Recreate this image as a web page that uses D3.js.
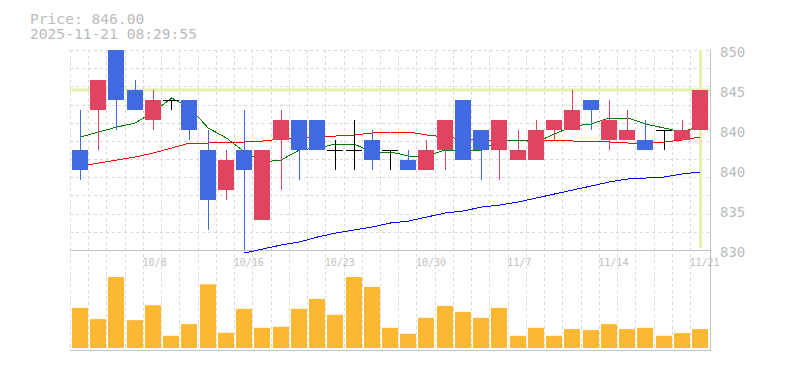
<!DOCTYPE html>
<html>
<head>
<meta charset="utf-8">
<script src="https://cdn.jsdelivr.net/npm/d3@7"></script>
<style>
  body { margin: 0; background: #fff; }
  svg { display: block; font-family: "DejaVu Sans Mono", monospace; }
</style>
</head>
<body>
<div id="chart"></div>
<script>
// trading days shown
const dates = ["10/2","10/3","10/6","10/7","10/8","10/9","10/10","10/14","10/15","10/16",
  "10/17","10/20","10/21","10/22","10/23","10/24","10/27","10/28","10/29","10/30",
  "10/31","11/4","11/5","11/6","11/7","11/10","11/11","11/12","11/13","11/14",
  "11/17","11/18","11/19","11/20","11/21"];

const opens  = [840,844,850,846,843,845,845,840,836,840,833,841,843,843,840,840,841,840,839,838,840,845,842,840,839,839,842,842,845,841,841,841,842,841,842];
const highs  = [844,847,850,847,846,845,845,842,840,844,840,844,843,843,841,843,842,840,840,841,843,845,842,843,842,843,843,846,845,845,844,843,842,843,846];
const lows   = [837,840,842,844,842,844,841,832,835,830,833,836,837,840,838,838,838,838,838,838,838,839,837,837,839,839,841,842,842,840,841,840,840,841,842];
const closes = [838,847,845,844,845,845,842,835,839,838,840,843,840,840,840,840,839,840,838,840,843,839,840,843,840,842,843,844,844,843,842,840,842,842,846];

// moving averages
const ma5  = [841.3,841.8,842.3,842.7,843.8,845.2,844.2,842.2,841.2,839.8,838.8,839.0,840.0,840.2,840.6,840.6,839.8,839.8,839.4,839.4,
  840.0,840.0,840.0,841.0,841.0,840.8,841.6,842.4,842.6,843.2,843.2,842.6,842.2,841.8,842.4];
const ma25 = [838.4,838.7,839.0,839.3,839.7,840.2,840.7,840.7,840.8,840.8,840.9,841.1,841.2,841.3,841.4,841.5,841.7,841.8,841.8,841.5,
  841.3,841.1,840.9,841.0,841.0,841.0,841.0,840.9,840.9,840.8,840.7,840.7,840.8,841.0,841.3];
const ma75 = [null,null,null,null,null,null,null,null,null,829.7,830.1,830.5,830.8,831.3,831.7,832.0,832.3,832.7,832.9,833.3,
  833.7,833.9,834.3,834.5,834.8,835.2,835.6,836.0,836.4,836.8,837.1,837.2,837.3,837.6,837.8];

const volumes = [403,290,713,280,430,123,240,640,153,393,203,213,393,493,333,713,613,203,143,303,
  423,363,303,403,123,203,123,190,180,240,190,203,123,150,190];

const xTickDates = ["10/8","10/16","10/23","10/30","11/7","11/14","11/21"];
const yTickValues = [850, 846, 842, 838, 834, 830];
const yTickLabels = ["850","845","840","840","835","830"];

const lastPrice = 846.00;
const stamp = "2025-11-21 08:29:55";

const W = 785, H = 370;
const mL = 70, mR = 710, mT = 50, priceBottom = 250, volBottom = 350;

const svg = d3.select("#chart").append("svg")
  .attr("width", W).attr("height", H);

const x = d3.scalePoint().domain(dates).range([80, 700]);
const y = d3.scaleLinear().domain([830, 850]).range([priceBottom, mT]);
const yv = d3.scaleLinear().domain([0, d3.max(volumes)]).range([348, 277]);

const px = d => Math.round(x(d)) + 0.5;

// grid
const grid = svg.append("g").attr("stroke", "#d9d9d9").attr("stroke-dasharray", "3,3")
  .attr("shape-rendering", "crispEdges");
grid.selectAll(".v").data(dates).join("line")
  .attr("x1", d => Math.round(x(d) - 10) + 0.5).attr("x2", d => Math.round(x(d) - 10) + 0.5)
  .attr("y1", mT).attr("y2", volBottom);
grid.selectAll(".h").data(d3.range(11)).join("line")
  .attr("x1", mL).attr("x2", mR)
  .attr("y1", i => Math.round(mT + i * (priceBottom - mT) / 11) + 0.5)
  .attr("y2", i => Math.round(mT + i * (priceBottom - mT) / 11) + 0.5);

// current price markers
svg.append("line")
  .attr("x1", mL).attr("x2", mR)
  .attr("y1", y(lastPrice)).attr("y2", y(lastPrice))
  .attr("stroke", "#e1f2a9").attr("stroke-width", 3);
svg.append("line")
  .attr("x1", px(dates[dates.length - 1])).attr("x2", px(dates[dates.length - 1]))
  .attr("y1", mT).attr("y2", 248)
  .attr("stroke", "#e1f2a9").attr("stroke-width", 3);

// frame
const frame = svg.append("g").attr("stroke", "#c0c0c0").attr("shape-rendering", "crispEdges");
frame.append("line").attr("x1", mL).attr("x2", mR).attr("y1", priceBottom + 0.5).attr("y2", priceBottom + 0.5);
frame.append("line").attr("x1", mL).attr("x2", mR + 1).attr("y1", volBottom + 0.5).attr("y2", volBottom + 0.5);
frame.append("line").attr("x1", mR + 0.5).attr("x2", mR + 0.5).attr("y1", mT).attr("y2", volBottom);

// moving averages
function maLine(vals, color) {
  const line = d3.line()
    .defined(d => d[1] != null)
    .x(d => x(d[0]) + 0.5)
    .y(d => y(d[1]));
  svg.append("path")
    .datum(dates.map((d, i) => [d, vals[i]]))
    .attr("d", line)
    .attr("fill", "none")
    .attr("stroke", color)
    .attr("stroke-width", 1)
    .attr("shape-rendering", "crispEdges");
}
maLine(ma75, "#0000ff");
maLine(ma25, "#ff0000");
maLine(ma5, "#008000");

// candles
const candles = dates.map((d, i) => ({ d, o: opens[i], h: highs[i], l: lows[i], c: closes[i] }));
const colorOf = k => k.c > k.o ? "#e14360" : (k.c < k.o ? "#4169e1" : "#000");

const cg = svg.append("g").attr("shape-rendering", "crispEdges");
cg.selectAll(".wick").data(candles).join("line")
  .attr("x1", k => px(k.d)).attr("x2", k => px(k.d))
  .attr("y1", k => y(k.h)).attr("y2", k => y(k.l))
  .attr("stroke", colorOf);
cg.selectAll(".body").data(candles.filter(k => k.c !== k.o)).join("rect")
  .attr("x", k => Math.round(x(k.d)) - 8)
  .attr("width", 16)
  .attr("y", k => y(Math.max(k.o, k.c)))
  .attr("height", k => Math.abs(y(k.o) - y(k.c)))
  .attr("fill", colorOf);
cg.selectAll(".doji").data(candles.filter(k => k.c === k.o)).join("line")
  .attr("x1", k => Math.round(x(k.d)) - 8).attr("x2", k => Math.round(x(k.d)) + 8)
  .attr("y1", k => y(k.c) + 0.5).attr("y2", k => y(k.c) + 0.5)
  .attr("stroke", "#000");

// volume
svg.append("g").selectAll("rect").data(dates).join("rect")
  .attr("x", d => Math.round(x(d)) - 8)
  .attr("width", 16)
  .attr("y", (d, i) => yv(volumes[i]))
  .attr("height", (d, i) => 348 - yv(volumes[i]))
  .attr("fill", "#fdb833");

// axis labels
svg.append("g").selectAll("text").data(yTickValues).join("text")
  .attr("x", 720)
  .attr("y", v => y(v) + 7)
  .attr("fill", "#bbbbbb")
  .attr("font-size", "14px")
  .text((v, i) => yTickLabels[i]);

svg.append("g").selectAll("text").data(xTickDates).join("text")
  .attr("x", d => x(d) - 10.5)
  .attr("y", 265.5)
  .attr("fill", "#c0c0c0")
  .attr("font-size", "10px")
  .text(d => d);

// header
svg.append("text").attr("x", 30).attr("y", 23.5)
  .attr("fill", "#bbbbbb").attr("font-size", "14.6px")
  .text("Price: " + lastPrice.toFixed(2));
svg.append("text").attr("x", 30).attr("y", 38.5)
  .attr("fill", "#bbbbbb").attr("font-size", "14.6px")
  .text(stamp);
</script>
</body>
</html>
